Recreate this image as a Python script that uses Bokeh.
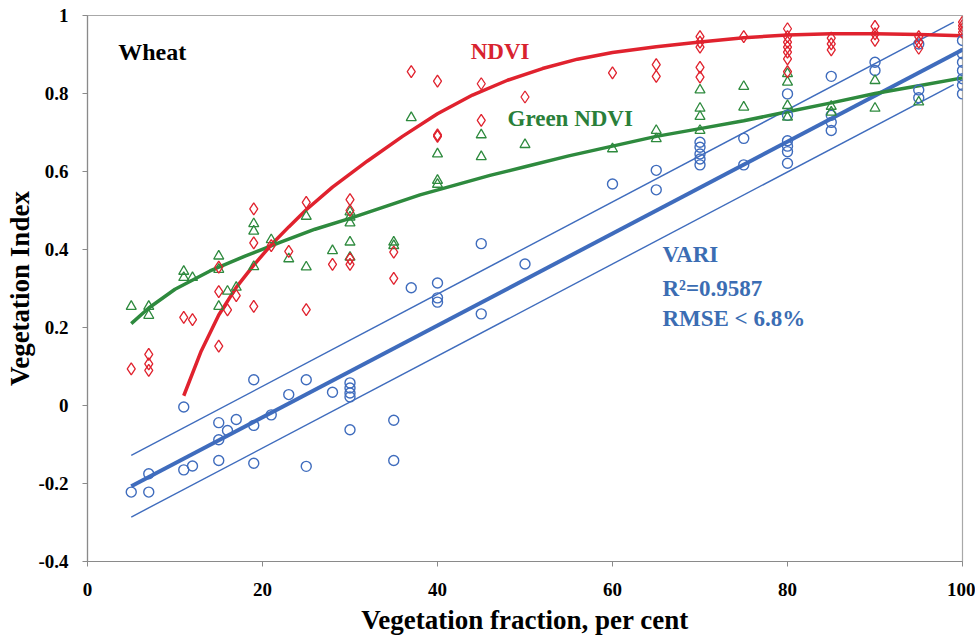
from bokeh.plotting import figure
from bokeh.models import Range1d, FixedTicker, Label
from bokeh.embed import file_html
from bokeh.resources import INLINE

# ---------------- data ----------------
vari_x = [5, 7, 7, 11, 11, 12, 15, 15, 15, 16, 17, 19, 19, 19, 21, 23, 25, 25, 28,
          30, 30, 30, 30, 30, 35, 35, 37, 40, 40, 40, 45, 45, 50, 60, 65, 65,
          70, 70, 70, 70, 70, 75, 75, 80, 80, 80, 80, 80, 80, 85, 85, 85, 85,
          90, 90, 95, 95, 95, 100, 100, 100, 100, 100, 100, 100]
vari_y = [-0.222, -0.175, -0.222, -0.004, -0.165, -0.155, -0.044, -0.088, -0.141, -0.064,
          -0.036, 0.066, -0.051, -0.148, -0.024, 0.028, 0.066, -0.156, 0.034,
          0.058, 0.045, 0.032, 0.022, -0.062, -0.038, -0.141, 0.302, 0.314, 0.276, 0.265,
          0.415, 0.235, 0.363, 0.568, 0.603, 0.553,
          0.675, 0.662, 0.645, 0.632, 0.617, 0.685, 0.617,
          0.799, 0.744, 0.679, 0.665, 0.651, 0.621, 0.844, 0.744, 0.726, 0.705,
          0.880, 0.859, 0.927, 0.809, 0.789, 0.936, 0.902, 0.880, 0.859, 0.838, 0.821, 0.799]

ndvi_x = [5, 7, 7, 7, 11, 12, 15, 15, 15, 16, 17, 19, 19, 19, 21, 23, 25, 25, 28,
          30, 30, 30, 30, 35, 35, 37, 40, 40, 40, 45, 45, 50, 60, 65, 65,
          70, 70, 70, 70, 70, 75, 80, 80, 80, 80, 80, 80, 80, 85, 85, 85,
          90, 90, 90, 95, 95, 95, 100, 100, 100, 100]
ndvi_y = [0.094, 0.131, 0.107, 0.090, 0.226, 0.220, 0.355, 0.292, 0.152, 0.245, 0.282,
          0.504, 0.417, 0.254, 0.410, 0.395, 0.521, 0.246, 0.362,
          0.528, 0.500, 0.376, 0.362, 0.393, 0.326, 0.856, 0.832, 0.694, 0.690,
          0.825, 0.731, 0.791, 0.853, 0.874, 0.844,
          0.946, 0.932, 0.919, 0.867, 0.842, 0.946,
          0.966, 0.946, 0.932, 0.919, 0.906, 0.889, 0.856, 0.942, 0.927, 0.912,
          0.972, 0.953, 0.936, 0.946, 0.932, 0.916, 0.983, 0.974, 0.966, 0.957]

gndvi_x = [5, 7, 7, 11, 11, 12, 15, 15, 15, 16, 17, 19, 19, 19, 21, 23, 25, 25, 28,
           30, 30, 30, 30, 30, 35, 35, 37, 40, 40, 40, 45, 45, 50, 60, 65, 65,
           70, 70, 70, 70, 75, 75, 80, 80, 80, 80, 85, 85, 90, 90, 95]
gndvi_y = [0.254, 0.254, 0.231, 0.344, 0.328, 0.328, 0.383, 0.349, 0.254, 0.293, 0.303,
           0.466, 0.447, 0.356, 0.425, 0.376, 0.485, 0.355, 0.397,
           0.496, 0.483, 0.468, 0.419, 0.380, 0.419, 0.410, 0.738, 0.645, 0.577, 0.567,
           0.694, 0.638, 0.669, 0.658, 0.705, 0.684,
           0.809, 0.762, 0.741, 0.705, 0.818, 0.765, 0.851, 0.829, 0.769, 0.739,
           0.767, 0.752, 0.833, 0.762, 0.778]

# fitted curves
ndvi_fit_x = [11, 13, 15, 17, 19, 21, 23, 25, 28, 32, 36, 40, 44, 48, 52, 56, 60,
              65, 70, 75, 80, 85, 90, 95, 100]
ndvi_fit_y = [0.025, 0.14, 0.232, 0.303, 0.36, 0.412, 0.458, 0.502, 0.56, 0.627, 0.69,
              0.748, 0.796, 0.834, 0.864, 0.888, 0.905, 0.92, 0.932, 0.943, 0.950,
              0.953, 0.953, 0.951, 0.948]

gndvi_fit_x = [5, 7, 10, 14, 18, 22, 26, 30, 34, 38, 42, 46, 50, 55, 60, 65, 70, 75, 80, 85, 90, 95, 100]
gndvi_fit_y = [0.21, 0.25, 0.298, 0.345, 0.383, 0.418, 0.452, 0.48, 0.51, 0.54, 0.565,
               0.59, 0.612, 0.64, 0.665, 0.69, 0.71, 0.73, 0.753, 0.776, 0.80, 0.82, 0.84]

vari_fit_x = [5, 100]
vari_fit_y = [-0.207, 0.912]
vari_up_x = [5, 99]
vari_up_y = [-0.128, 0.983]
vari_lo_x = [5, 99]
vari_lo_y = [-0.286, 0.823]

x_ticks = [0, 20, 40, 60, 80, 100]
y_ticks = [-0.4, -0.2, 0, 0.2, 0.4, 0.6, 0.8, 1.0]
y_tick_labels = ["-0.4", "-0.2", "0", "0.2", "0.4", "0.6", "0.8", "1"]

# ---------------- styling ----------------
FONT = "Liberation Serif"
RED = "#e0222e"
GREEN = "#2e8a3e"
BLUE = "#3f6cbd"

p = figure(width=975, height=643, output_backend="svg", toolbar_location=None,
           x_range=Range1d(0, 100), y_range=Range1d(-0.4, 1.0),
           min_border_left=87, min_border_right=13, min_border_top=15, min_border_bottom=82)
p.background_fill_color = "white"
p.border_fill_color = "white"
p.grid.visible = False
p.outline_line_color = "#a8a8a8"
p.outline_line_width = 1.2

for ax in (p.xaxis[0], p.yaxis[0]):
    ax.axis_line_color = "#8a8a8a"
    ax.axis_line_width = 1.2
    ax.major_tick_line_color = "#8a8a8a"
    ax.major_tick_in = 0
    ax.major_tick_out = 5
    ax.minor_tick_line_color = None
    ax.major_label_text_font = FONT
    ax.major_label_text_font_style = "bold"
    ax.major_label_text_font_size = "19px"
    ax.major_label_text_color = "black"
    ax.axis_label_text_font = FONT
    ax.axis_label_text_font_style = "bold"
    ax.axis_label_text_color = "black"

p.xaxis.major_label_standoff = 16
p.yaxis.major_label_standoff = 14
p.xaxis.axis_label = "Vegetation fraction, per cent"
p.xaxis.axis_label_text_font_size = "27px"
p.xaxis.axis_label_standoff = 6
p.yaxis.axis_label = "Vegetation Index"
p.yaxis.axis_label_text_font_size = "27px"
p.yaxis.axis_label_standoff = 0

p.xaxis.ticker = FixedTicker(ticks=x_ticks)
p.yaxis.ticker = FixedTicker(ticks=y_ticks)
p.yaxis.major_label_overrides = {t: l for t, l in zip(y_ticks, y_tick_labels)}

# fitted lines
p.line(vari_up_x, vari_up_y, line_color=BLUE, line_width=1.4)
p.line(vari_lo_x, vari_lo_y, line_color=BLUE, line_width=1.4)
p.line(vari_fit_x, vari_fit_y, line_color=BLUE, line_width=4)
p.line(gndvi_fit_x, gndvi_fit_y, line_color=GREEN, line_width=3.5, line_join="round")
p.line(ndvi_fit_x, ndvi_fit_y, line_color=RED, line_width=3.5, line_join="round")

# points
p.scatter(vari_x, vari_y, marker="circle", size=10, fill_color=None,
          line_color=BLUE, line_width=1.4)
p.scatter(gndvi_x, gndvi_y, marker="triangle", size=10, fill_color=None,
          line_color=GREEN, line_width=1.3)
p.scatter(ndvi_x, ndvi_y, marker="diamond", size=12, fill_color=None,
          line_color=RED, line_width=1.3)

def lab(x, y, text, color, size):
    p.add_layout(Label(x=x, y=y, text=text, text_color=color, text_font=FONT,
                       text_font_style="bold", text_font_size=size,
                       text_baseline="alphabetic"))

lab(3.5, 0.906, "Wheat", "black", "24px")
lab(43.8, 0.908, "NDVI", "#d8232f", "23px")
lab(48.0, 0.735, "Green NDVI", "#2a7f3a", "23px")
lab(65.7, 0.386, "VARI", "#3b6db3", "23px")
lab(65.7, 0.299, "R\u00b2=0.9587", "#3b6db3", "23px")
lab(65.7, 0.224, "RMSE < 6.8%", "#3b6db3", "23px")

open("out.html", "w").write(file_html(p, INLINE))
